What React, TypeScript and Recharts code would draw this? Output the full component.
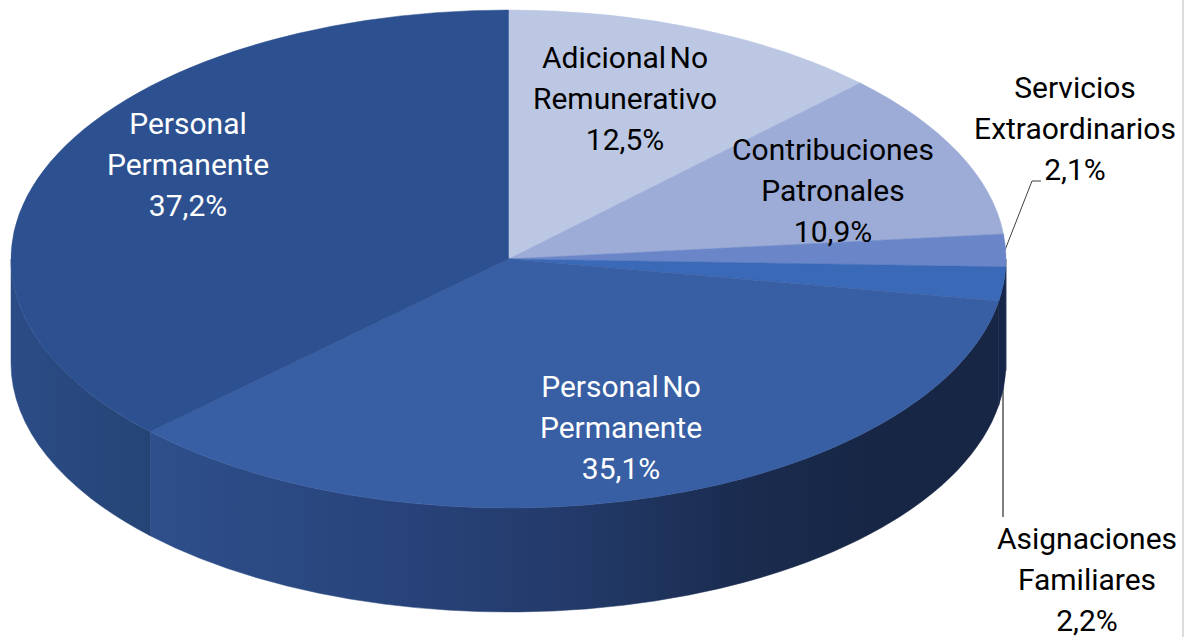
import React from "react"
import { PieChart, Pie, Cell } from "recharts"

const categories = [
  "Adicional No\nRemunerativo",
  "Contribuciones\nPatronales",
  "Servicios\nExtraordinarios",
  "Asignaciones\nFamiliares",
  "Personal No\nPermanente",
  "Personal\nPermanente",
]
const shares = [12.5, 10.9, 2.1, 2.2, 35.1, 37.2]

const topColors = ["#bcc8e3", "#9dacd6", "#6b86c8", "#3a69b7", "#385ea3", "#2d5190"]
const wallFills = ["#8c9ccb", "#7f90c4", "#16264a", "#16264a", "url(#wallFront)", "url(#wallLeft)"]
const textColors = ["#000", "#000", "#000", "#000", "#fff", "#fff"]

// label block centre x and first baseline, per slice
const labelX = [625, 833, 1075, 1087, 621, 188]
const labelY = [68, 160, 98, 549, 397, 134]
const LINE_H = 41.2

const CX = 508.5
const CY = 259
const RX = 497.5
const RY = 249
const DEPTH = 104

const chartData = categories.map((name, i) => ({ name, value: shares[i] }))

const px = (deg: number) => CX + RX * Math.cos((deg * Math.PI) / 180)
const py = (deg: number) => CY - RY * Math.sin((deg * Math.PI) / 180)

// recharts gives the angles, this only flattens the circle to an ellipse
const TopSlice = (props: any) => {
  const { startAngle, endAngle, fill } = props
  const large = Math.abs(endAngle - startAngle) > 180 ? 1 : 0
  const d = `M${CX},${CY}L${px(startAngle)},${py(startAngle)}A${RX},${RY} 0 ${large} 1 ${px(endAngle)},${py(endAngle)}Z`
  return <path d={d} fill={fill} stroke={fill} strokeWidth={0.5} />
}

const WallSlice = (props: any) => {
  const { startAngle, endAngle, fill } = props
  // only the front half of the rim is seen
  const s = Math.min(0, startAngle)
  const e = Math.max(-180, endAngle)
  if (s <= e) return null
  const a = `M${px(s)},${py(s)}A${RX},${RY} 0 0 1 ${px(e)},${py(e)}`
  const b = `L${px(e)},${py(e) + DEPTH}A${RX},${RY} 0 0 0 ${px(s)},${py(s) + DEPTH}Z`
  return <path d={a + b} fill={fill} stroke={fill} strokeWidth={0.5} />
}

const renderLabel = (props: any) => {
  const { index } = props
  const lines = [...categories[index].split("\n"), shares[index].toFixed(1).replace(".", ",") + "%"]
  return (
    <text
      key={index}
      textAnchor="middle"
      fontFamily="Roboto, sans-serif"
      fontSize={30}
      wordSpacing={-4}
      fill={textColors[index]}
    >
      {lines.map((line, n) => (
        <tspan key={n} x={labelX[index]} y={labelY[index] + n * LINE_H}>
          {line}
        </tspan>
      ))}
    </text>
  )
}

const App = () => {
  return (
    <div style={{ position: "absolute", left: 0, top: 0, width: 1197, height: 637, background: "#fff" }}>
      <PieChart width={1197} height={637} margin={{ top: 0, right: 0, bottom: 0, left: 0 }}>
        <defs>
          <linearGradient id="wallFront" gradientUnits="userSpaceOnUse" x1="150" y1="0" x2="1006" y2="0">
            <stop offset="0" stopColor="#2e4f8b" />
            <stop offset="0.3" stopColor="#28437a" />
            <stop offset="0.5" stopColor="#233a69" />
            <stop offset="0.68" stopColor="#1a2c50" />
            <stop offset="0.85" stopColor="#172644" />
            <stop offset="1" stopColor="#172644" />
          </linearGradient>
          <linearGradient id="wallLeft" gradientUnits="userSpaceOnUse" x1="10" y1="0" x2="150" y2="0">
            <stop offset="0" stopColor="#2b4c86" />
            <stop offset="1" stopColor="#254476" />
          </linearGradient>
        </defs>
        <Pie
          data={chartData}
          dataKey="value"
          nameKey="name"
          cx={CX}
          cy={CY}
          outerRadius={RX}
          startAngle={90}
          endAngle={-270}
          stroke="none"
          isAnimationActive={false}
          shape={WallSlice}
        >
          {chartData.map((d, i) => (
            <Cell key={d.name} fill={wallFills[i]} />
          ))}
        </Pie>
        <Pie
          data={chartData}
          dataKey="value"
          nameKey="name"
          cx={CX}
          cy={CY}
          outerRadius={RX}
          startAngle={90}
          endAngle={-270}
          stroke="none"
          isAnimationActive={false}
          shape={TopSlice}
          label={renderLabel}
          labelLine={false}
        >
          {chartData.map((d, i) => (
            <Cell key={d.name} fill={topColors[i]} />
          ))}
        </Pie>
        <polyline points="1005,250 1032,181 1041,181" fill="none" stroke="#404040" strokeWidth={1} />
        <line x1={1003} y1={283} x2={1003} y2={517} stroke="#000" strokeWidth={1} />
      </PieChart>
      <div style={{ position: "absolute", left: 1182, top: 0, width: 2, height: 637, background: "#dcdcdc" }} />
    </div>
  )
}

export default App
